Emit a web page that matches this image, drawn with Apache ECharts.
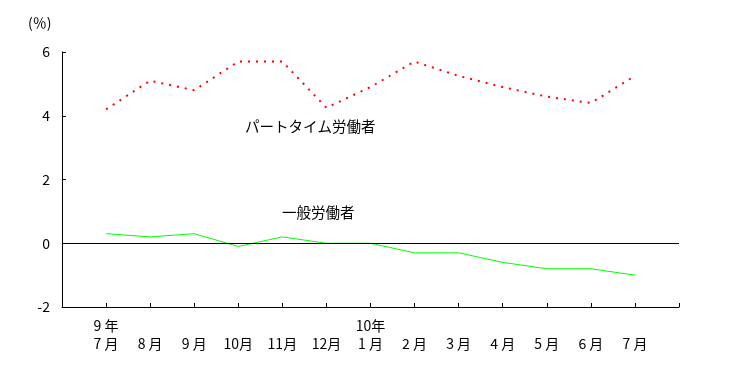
<!DOCTYPE html>
<html>
<head>
<meta charset="utf-8">
<script src="https://cdn.jsdelivr.net/npm/echarts@6/dist/echarts.min.js"></script>
<style>
html,body{margin:0;padding:0;background:#fff;}
#chart{width:731px;height:375px;}
</style>
</head>
<body>
<div id="chart"></div>
<script>
// Month positions 0..12 (9年7月 .. 10年7月)
const yearLabels = ['9 年', '', '', '', '', '', '10年', '', '', '', '', '', ''];
const monthLabels = ['7 月', '8 月', '9 月', '10月', '11月', '12月', '1 月', '2 月', '3 月', '4 月', '5 月', '6 月', '7 月'];
const partTime = [4.2, 5.1, 4.8, 5.7, 5.7, 4.25, 4.9, 5.7, 5.25, 4.9, 4.6, 4.4, 5.25];
const general = [0.3, 0.2, 0.3, -0.1, 0.2, 0.0, 0.0, -0.3, -0.3, -0.6, -0.8, -0.8, -1.0];
const yTicks = [-2, 0, 2, 4, 6];

const FONT = '"Noto Sans CJK JP", "Noto Sans CJK SC", sans-serif';
const chart = echarts.init(document.getElementById('chart'), null, {renderer: 'canvas'});

const toPairs = arr => arr.map((v, i) => [i, v]);

chart.setOption({
  animation: false,
  backgroundColor: '#fff',
  grid: {left: 62, right: 52, top: 52, bottom: 68, containLabel: false},
  xAxis: {
    type: 'value',
    min: -1, max: 13, interval: 1,
    axisLine: {show: true, onZero: false, lineStyle: {color: '#000', width: 1}},
    axisTick: {show: true, inside: true, length: 4, lineStyle: {color: '#000'}},
    splitLine: {show: false},
    axisLabel: {
      show: true, margin: 10,
      fontFamily: FONT, fontSize: 14, color: '#000', lineHeight: 18,
      formatter: v => {
        const i = Math.round(v);
        if (i < 0 || i >= monthLabels.length) return '';
        return (yearLabels[i] || ' ') + '\n' + monthLabels[i];
      }
    }
  },
  yAxis: {
    type: 'value',
    min: -2, max: 6, interval: 2,
    axisLine: {show: true, onZero: false, lineStyle: {color: '#000', width: 1}},
    axisTick: {show: true, inside: true, length: 4, lineStyle: {color: '#000'}},
    splitLine: {show: false},
    axisLabel: {
      margin: 12, fontFamily: FONT, fontSize: 14, color: '#000',
      formatter: v => yTicks.includes(v) ? String(v) : ''
    }
  },
  graphic: [
    {type: 'text', left: 28, top: 16, style: {text: '(％)', font: '14px ' + FONT, fill: '#000'}},
    {type: 'text', left: 245, top: 119, style: {text: 'パートタイム労働者', font: '14.5px ' + FONT, fill: '#000'}},
    {type: 'text', left: 282, top: 205, style: {text: '一般労働者', font: '14.5px ' + FONT, fill: '#000'}}
  ],
  series: [
    {
      name: 'パートタイム労働者',
      type: 'line',
      data: toPairs(partTime),
      showSymbol: false,
      smooth: false,
      lineStyle: {color: '#ff0000', width: 2, type: [2, 6]},
      z: 3
    },
    {
      name: '一般労働者',
      type: 'line',
      data: toPairs(general),
      showSymbol: false,
      smooth: false,
      lineStyle: {color: '#00ff00', width: 1},
      markLine: {
        silent: true,
        symbol: ['none', 'none'],
        label: {show: false},
        lineStyle: {color: '#000', width: 1, type: 'solid'},
        data: [{yAxis: 0}]
      },
      z: 4
    }
  ]
});
</script>
</body>
</html>
